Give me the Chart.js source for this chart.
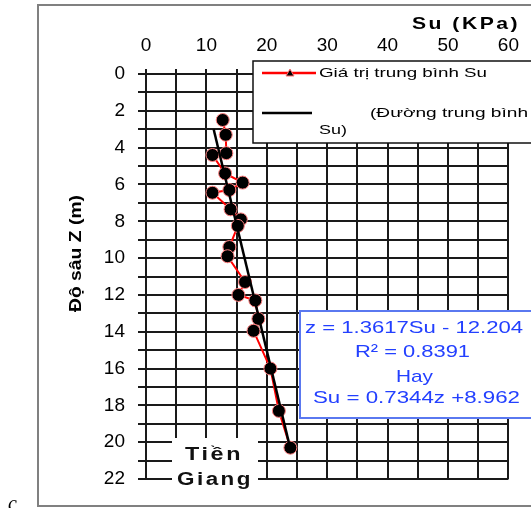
<!DOCTYPE html>
<html>
<head>
<meta charset="utf-8">
<script src="https://cdn.jsdelivr.net/npm/chart.js@4/dist/chart.umd.min.js"></script>
<style>
  body { margin: 0; background: #fff; }
  #wrap { width: 531px; height: 508px; }
</style>
</head>
<body>
<div id="wrap"><canvas id="myChart" width="531" height="508"></canvas></div>
<script>
// Su (KPa) va do sau Z (m), doc tu hinh
var suValues = [12.7, 13.2, 13.3, 11.0, 13.1, 16.0, 13.8, 11.0, 14.0, 15.7, 15.2, 13.8, 13.5, 16.4, 15.3, 18.1, 18.6, 17.8, 20.6, 22.0, 23.9];
var depthValues = [2.5, 3.3, 4.3, 4.4, 5.4, 5.9, 6.3, 6.45, 7.35, 7.9, 8.25, 9.4, 9.9, 11.3, 12.0, 12.3, 13.3, 13.95, 16.0, 18.3, 20.3];
// duong trung binh (hai dau mut)
var trendSu = [11.2, 24.0];
var trendDepth = [3.0, 20.5];
var suTicks = [0, 10, 20, 30, 40, 50, 60];
var depthTicks = [0, 2, 4, 6, 8, 10, 12, 14, 16, 18, 20, 22];

function toPoints(xs, ys) {
    return xs.map(function (x, i) { return { x: x, y: ys[i] }; });
}

// ve chu, keo gian cho vua be rong; spacing = khoang cach them giua cac chu
function fitText(ctx, text, x, y, width, font, color, spacing) {
    spacing = spacing || 0;
    ctx.save();
    ctx.font = font;
    ctx.letterSpacing = spacing + 'px';
    var w = ctx.measureText(text).width;
    ctx.textAlign = 'left';
    ctx.textBaseline = 'middle';
    ctx.fillStyle = color;
    ctx.translate(x, y);
    ctx.scale(width / w, 1);
    ctx.fillText(text, 0, 0);
    ctx.restore();
}

var decor = {
    id: 'decor',
    beforeDraw: function (chart) {
        var ctx = chart.ctx;
        ctx.save();
        ctx.fillStyle = '#fff';
        ctx.fillRect(0, 0, chart.width, chart.height);
        ctx.restore();
    },
    afterDraw: function (chart) {
        var ctx = chart.ctx;
        var blue = '#2340ff';
        var small = '13px "Liberation Sans", Arial';
        ctx.save();

        // legend box
        ctx.fillStyle = '#fff';
        ctx.fillRect(253, 61, 300, 82);
        ctx.strokeStyle = '#111';
        ctx.lineWidth = 1.5;
        ctx.strokeRect(253, 61, 300, 82);
        ctx.strokeStyle = '#ff0000';
        ctx.lineWidth = 2.5;
        ctx.beginPath(); ctx.moveTo(262, 73); ctx.lineTo(316, 73); ctx.stroke();
        ctx.fillStyle = '#000';
        ctx.strokeStyle = '#ff7070';
        ctx.lineWidth = 1;
        ctx.beginPath(); ctx.moveTo(286, 76); ctx.lineTo(290, 69); ctx.lineTo(294, 76); ctx.closePath();
        ctx.fill(); ctx.stroke();
        ctx.strokeStyle = '#000';
        ctx.lineWidth = 2.5;
        ctx.beginPath(); ctx.moveTo(262, 113); ctx.lineTo(312, 113); ctx.stroke();
        fitText(ctx, 'Giá trị trung bình Su', 319, 73, 168, small, '#000');
        fitText(ctx, '(Đường trung bình', 370, 113, 158, small, '#000');
        fitText(ctx, 'Su)', 319, 130, 28, small, '#000');

        // equation box
        ctx.fillStyle = '#fff';
        ctx.fillRect(300, 311, 250, 107);
        ctx.strokeStyle = '#5a78f0';
        ctx.lineWidth = 2;
        ctx.strokeRect(300, 311, 250, 107);
        var eqFont = '17px "Liberation Sans", Arial';
        fitText(ctx, 'z = 1.3617Su - 12.204', 305, 328, 218, eqFont, blue);
        fitText(ctx, 'R² = 0.8391', 355, 352, 115, eqFont, blue);
        fitText(ctx, 'Hay', 396, 377, 37, eqFont, blue);
        fitText(ctx, 'Su = 0.7344z +8.962', 313, 398, 207, eqFont, blue);

        // Tien Giang label
        ctx.fillStyle = '#fff';
        ctx.fillRect(172, 438, 86, 50);
        fitText(ctx, 'Tiền', 185, 455, 58, 'bold 18px "Liberation Sans", Arial', '#111', 2);
        fitText(ctx, 'Giang', 177, 480, 76, 'bold 18px "Liberation Sans", Arial', '#111', 2);

        // axis titles
        fitText(ctx, 'Su (KPa)', 412, 24, 108, 'bold 17px "Liberation Sans", Arial', '#000', 2);
        ctx.save();
        ctx.translate(76, 253);
        ctx.rotate(-Math.PI / 2);
        fitText(ctx, 'Độ sâu Z (m)', -59, 0, 117, 'bold 17px "Liberation Sans Narrow", "Liberation Sans", Arial', '#000');
        ctx.restore();

        // outer frame
        ctx.strokeStyle = '#808080';
        ctx.lineWidth = 2;
        ctx.strokeRect(38, 5, 520, 501);

        ctx.fillStyle = '#000';
        ctx.font = 'italic 20px "Liberation Serif", serif';
        ctx.textAlign = 'left';
        ctx.textBaseline = 'alphabetic';
        ctx.fillText('c', 8, 510);
        ctx.restore();
    }
};

document.addEventListener('DOMContentLoaded', function () {
    var ctx = document.getElementById('myChart').getContext('2d');
    var tickFont = { family: '"Liberation Sans Narrow", "Liberation Sans", Arial', size: 19 };
    var myChart = new Chart(ctx, {
        type: 'scatter',
        data: {
            datasets: [{
                label: '(Đường trung bình Su)',
                data: toPoints(trendSu, trendDepth),
                showLine: true,
                borderColor: '#000',
                borderWidth: 2.5,
                pointRadius: 0,
                order: 0
            }, {
                label: 'Giá trị trung bình Su',
                data: toPoints(suValues, depthValues),
                showLine: true,
                borderColor: '#ff0000',
                borderWidth: 2,
                pointStyle: 'circle',
                pointRadius: 6.5,
                pointBackgroundColor: '#000',
                pointBorderColor: '#ff8080',
                pointBorderWidth: 1,
                order: 1
            }]
        },
        options: {
            responsive: false,
            animation: false,
            layout: { padding: { left: 0, top: 0, right: 19, bottom: 29 } },
            plugins: {
                legend: { display: false },
                tooltip: { enabled: false }
            },
            scales: {
                x: {
                    type: 'linear',
                    position: 'top',
                    min: 0,
                    max: 60,
                    afterFit: function (scale) { scale.height = 74; },
                    ticks: {
                        stepSize: 5,
                        autoSkip: false,
                        maxRotation: 0,
                        padding: 12,
                        color: '#000',
                        font: tickFont,
                        callback: function (v) { return suTicks.indexOf(v) >= 0 ? v : ''; }
                    },
                    grid: { color: '#1a1a1a', lineWidth: 2, tickLength: 5 },
                    border: { color: '#1a1a1a', width: 2 }
                },
                y: {
                    type: 'linear',
                    reverse: true,
                    min: 0,
                    max: 22,
                    afterFit: function (scale) { scale.width = 146; },
                    ticks: {
                        stepSize: 1,
                        autoSkip: false,
                        padding: 13,
                        color: '#000',
                        font: tickFont,
                        callback: function (v) { return depthTicks.indexOf(v) >= 0 ? v : ''; }
                    },
                    grid: { color: '#1a1a1a', lineWidth: 2, tickLength: 8 },
                    border: { color: '#1a1a1a', width: 2 }
                }
            }
        },
        plugins: [decor]
    });
});
</script>
</body>
</html>
